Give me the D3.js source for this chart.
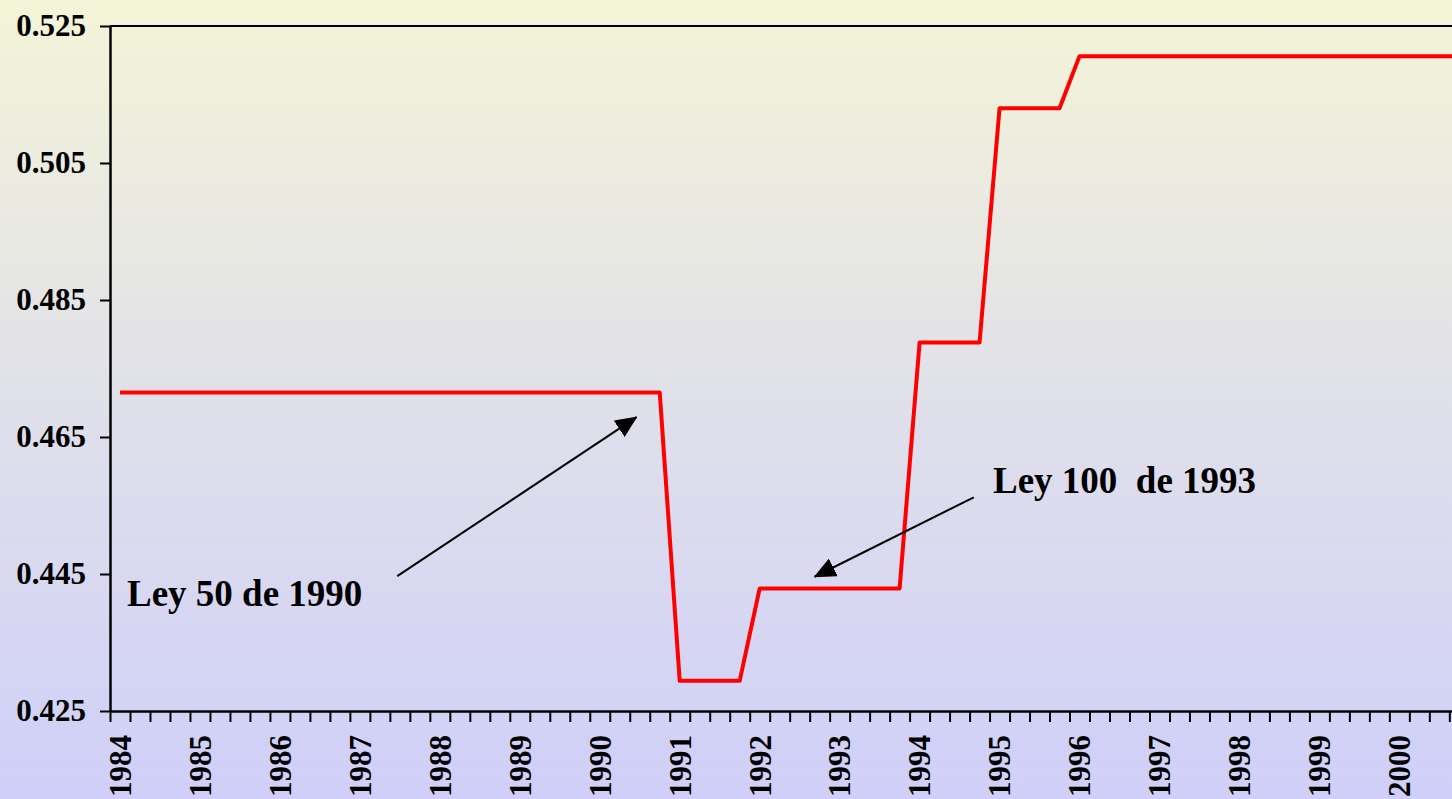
<!DOCTYPE html>
<html>
<head>
<meta charset="utf-8">
<script src="https://cdn.jsdelivr.net/npm/d3@7"></script>
<style>
	html, body { margin: 0; padding: 0; overflow: hidden; }
	svg { display: block; }
	text { font-family: "Liberation Serif", "Times New Roman", serif; font-weight: bold; fill: #000; }
</style>
</head>
<body>
<div id="chart"></div>
<script>

// one row per year, four quarters each
const years = [1984, 1985, 1986, 1987, 1988, 1989, 1990, 1991, 1992,
	1993, 1994, 1995, 1996, 1997, 1998, 1999, 2000];

const values = [
	0.4715, 0.4715, 0.4715, 0.4715, // 1984
	0.4715, 0.4715, 0.4715, 0.4715, // 1985
	0.4715, 0.4715, 0.4715, 0.4715, // 1986
	0.4715, 0.4715, 0.4715, 0.4715, // 1987
	0.4715, 0.4715, 0.4715, 0.4715, // 1988
	0.4715, 0.4715, 0.4715, 0.4715, // 1989
	0.4715, 0.4715, 0.4715, 0.4715, // 1990
	0.4294, 0.4294, 0.4294, 0.4294, // 1991
	0.4429, 0.4429, 0.4429, 0.4429, // 1992
	0.4429, 0.4429, 0.4429, 0.4429, // 1993
	0.4788, 0.4788, 0.4788, 0.4788, // 1994
	0.5130, 0.5130, 0.5130, 0.5130, // 1995
	0.5206, 0.5206, 0.5206, 0.5206, // 1996
	0.5206, 0.5206, 0.5206, 0.5206, // 1997
	0.5206, 0.5206, 0.5206, 0.5206, // 1998
	0.5206, 0.5206, 0.5206, 0.5206, // 1999
	0.5206, 0.5206, 0.5206, 0.5206  // 2000
];

const yTicks = [0.425, 0.445, 0.465, 0.485, 0.505, 0.525];

// annotations, in quarter index / value units
const notes = [
	{ label: 'Ley 50 de 1990', tx: 0.85, ty: 0.4403, from: [14.37, 0.4447], to: [26.34, 0.4679] },
	{ label: 'Ley 100\u00a0 de 1993', tx: 44.17, ty: 0.4568, from: [43.21, 0.4562], to: [35.25, 0.4446] }
];

class StepChart {

	constructor(options) {
		this.element = options.element;
		this.draw();
	}

	draw() {

		this.width = 1452;
		this.height = 799;
		this.left = 110;
		this.top = 26;
		this.bottom = 711;
		this.quarter = 19.99;

		this.createSVG();
		this.createScales();
		this.createAxes();
		this.createLine();
		this.createNotes();

	}

	createSVG() {
		this.svg = d3.select(this.element)
			.append('svg')
				.attr('width', this.width)
				.attr('height', this.height);

		const grad = this.svg.append('defs')
			.append('linearGradient')
				.attr('id', 'bg')
				.attr('x1', 0).attr('y1', 0)
				.attr('x2', 0).attr('y2', 1);
		grad.append('stop').attr('offset', '0%').attr('stop-color', '#f4f4d8');
		grad.append('stop').attr('offset', '50%').attr('stop-color', '#e0e0ea');
		grad.append('stop').attr('offset', '100%').attr('stop-color', '#cfcff9');

		this.svg.append('rect')
			.attr('width', this.width)
			.attr('height', this.height)
			.attr('fill', 'url(#bg)');
	}

	createScales() {

		this.xScale = d3.scaleLinear()
			.domain([0, values.length])
			.range([this.left, this.left + values.length * this.quarter]);

		this.yScale = d3.scaleLinear()
			.domain([0.425, 0.525])
			.range([this.bottom, this.top]);

	}

	createAxes() {

		const that = this;

		this.xAxis = d3.axisBottom(this.xScale)
			.tickValues(d3.range(0, values.length + 1))
			.tickSize(11)
			.tickSizeOuter(0)
			.tickFormat('');

		const gx = this.svg.append('g')
			.attr('transform', `translate(0, ${this.bottom})`)
			.call(this.xAxis);
		gx.select('.domain').attr('stroke-width', 2.5);
		gx.selectAll('.tick line').attr('stroke-width', 2);

		gx.selectAll('text.year')
			.data(years).enter()
			.append('text')
				.attr('class', 'year')
				.attr('transform', function(d, i) {
					return `translate(${that.xScale(i * 4 + 0.5)}, 24) rotate(-90)`;
				})
				.attr('text-anchor', 'end')
				.attr('dy', '0.35em')
				.style('font-size', '31px')
				.text(function(d) { return d; });

		this.yAxis = d3.axisLeft(this.yScale)
			.tickValues(yTicks)
			.tickSize(10)
			.tickSizeOuter(0)
			.tickPadding(14)
			.tickFormat(d3.format('.3f'));

		const gy = this.svg.append('g')
			.attr('transform', `translate(${this.left}, 0)`)
			.call(this.yAxis);
		gy.select('.domain').attr('stroke-width', 2.5);
		gy.selectAll('.tick line').attr('stroke-width', 2);
		gy.selectAll('.tick text')
			.style('font-size', '31px')
			.attr('font-family', null);

		// top border of the plot area
		this.svg.append('line')
			.attr('x1', this.left)
			.attr('x2', this.width)
			.attr('y1', this.yScale(0.525))
			.attr('y2', this.yScale(0.525))
			.attr('stroke', '#000')
			.attr('stroke-width', 2);

	}

	createLine() {

		const line = d3.line()
			.x((d, i) => this.xScale(i + 0.5))
			.y(d => this.yScale(d));

		this.svg.append('path')
			.datum(values)
			.attr('d', line)
			.attr('fill', 'none')
			.attr('stroke', '#ff0000')
			.attr('stroke-width', 4)
			.attr('stroke-linejoin', 'round');

	}

	createNotes() {

		const that = this;

		this.svg.select('defs')
			.append('marker')
				.attr('id', 'head')
				.attr('markerUnits', 'userSpaceOnUse')
				.attr('viewBox', '0 0 20 18')
				.attr('refX', 19)
				.attr('refY', 9)
				.attr('markerWidth', 22)
				.attr('markerHeight', 20)
				.attr('orient', 'auto')
			.append('path')
				.attr('d', 'M0,0 L20,9 L0,18 Z')
				.attr('fill', '#000');

		const g = this.svg.append('g');

		g.selectAll('line')
			.data(notes).enter()
			.append('line')
				.attr('x1', function(d) { return that.xScale(d.from[0]); })
				.attr('y1', function(d) { return that.yScale(d.from[1]); })
				.attr('x2', function(d) { return that.xScale(d.to[0]); })
				.attr('y2', function(d) { return that.yScale(d.to[1]); })
				.attr('stroke', '#000')
				.attr('stroke-width', 2)
				.attr('marker-end', 'url(#head)');

		g.selectAll('text')
			.data(notes).enter()
			.append('text')
				.attr('x', function(d) { return that.xScale(d.tx); })
				.attr('y', function(d) { return that.yScale(d.ty); })
				.style('font-size', '37px')
				.text(function(d) { return d.label; });

	}

}

new StepChart({ element: '#chart' });

</script>
</body>
</html>
